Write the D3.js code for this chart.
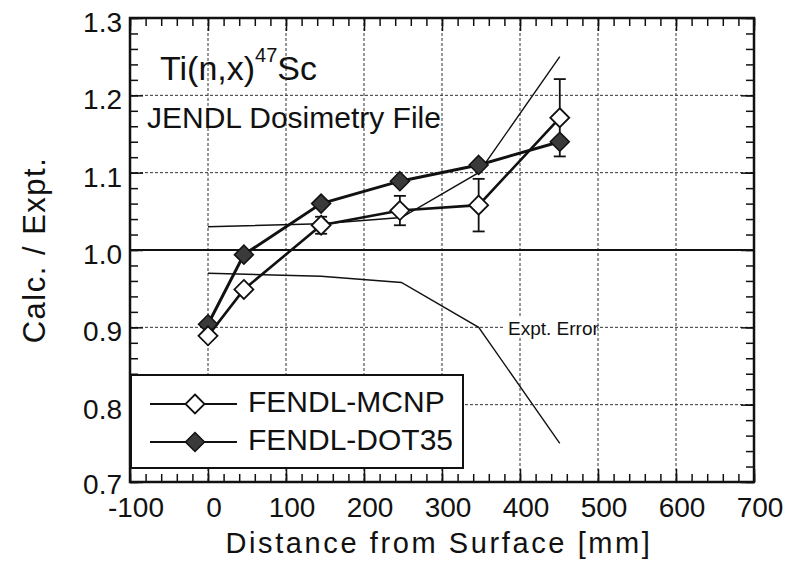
<!DOCTYPE html>
<html>
<head>
<meta charset="utf-8">
<script src="https://cdn.jsdelivr.net/npm/d3@7"></script>
<style>
  html, body { margin: 0; padding: 0; background: #fff; }
  svg { display: block; }
  text { font-family: "Liberation Sans", Arial, Helvetica, sans-serif; fill: #111; }
</style>
</head>
<body>
<svg id="chart" width="793" height="562"></svg>
<script>
// ---- data ----
const distance = [0, 46, 145, 246, 347, 451];
const mcnp     = [0.889, 0.949, 1.032, 1.051, 1.058, 1.171];
const mcnpErr  = [0.005, 0.005, 0.011, 0.019, 0.034, 0.050];
const dot35    = [0.904, 0.994, 1.060, 1.089, 1.110, 1.140];
const errX     = [0, 145, 248, 347, 451];
const errUpper = [1.030, 1.034, 1.042, 1.100, 1.250];
const errLower = [0.970, 0.966, 0.958, 0.900, 0.750];
const xTicks = [-100, 0, 100, 200, 300, 400, 500, 600, 700];
const yTicks = [0.7, 0.8, 0.9, 1.0, 1.1, 1.2, 1.3];
const yTickLabels = ["0.7", "0.8", "0.9", "1.0", "1.1", "1.2", "1.3"];
const seriesNames = ["FENDL-MCNP", "FENDL-DOT35"];

// ---- layout ----
const svg = d3.select("#chart");
const L = 130, R = 754, T = 18, B = 482;
const x = d3.scaleLinear().domain([-100, 700]).range([L, R]);
const y = d3.scaleLinear().domain([0.7, 1.3]).range([B, T]);

// gridlines
const grid = svg.append("g").attr("stroke", "#333").attr("stroke-width", 1).attr("stroke-dasharray", "3,2");
xTicks.slice(1, -1).forEach(v => grid.append("line").attr("x1", x(v)).attr("x2", x(v)).attr("y1", T).attr("y2", B));
yTicks.slice(1, -1).filter(v => v !== 1.0).forEach(v => grid.append("line").attr("x1", L).attr("x2", R).attr("y1", y(v)).attr("y2", y(v)));

// minor/major ticks via d3 axes (inward)
const minorX = d3.range(-100, 701, 20);
const minorY = d3.range(0, 31).map(i => 0.7 + i * 0.02);
function styleAxis(g) { g.select(".domain").remove(); g.selectAll("text").remove(); g.selectAll("line").attr("stroke", "#111").attr("stroke-width", 1.5); }
svg.append("g").attr("transform", `translate(0,${B})`).call(d3.axisBottom(x).tickValues(minorX).tickSize(-8)).call(styleAxis);
svg.append("g").attr("transform", `translate(0,${T})`).call(d3.axisTop(x).tickValues(minorX).tickSize(-8)).call(styleAxis);
svg.append("g").attr("transform", `translate(${L},0)`).call(d3.axisLeft(y).tickValues(minorY).tickSize(-8)).call(styleAxis);
svg.append("g").attr("transform", `translate(${R},0)`).call(d3.axisRight(y).tickValues(minorY).tickSize(-8)).call(styleAxis);
// major ticks
svg.append("g").attr("transform", `translate(0,${B})`).call(d3.axisBottom(x).tickValues(xTicks).tickSize(-13)).call(styleAxis);
svg.append("g").attr("transform", `translate(0,${T})`).call(d3.axisTop(x).tickValues(xTicks).tickSize(-13)).call(styleAxis);
svg.append("g").attr("transform", `translate(${L},0)`).call(d3.axisLeft(y).tickValues(yTicks).tickSize(-13)).call(styleAxis);
svg.append("g").attr("transform", `translate(${R},0)`).call(d3.axisRight(y).tickValues(yTicks).tickSize(-13)).call(styleAxis);

// tick labels
svg.append("g").selectAll("text").data(xTicks).join("text")
  .attr("x", d => x(d) + 6).attr("y", 517).attr("text-anchor", "middle")
  .attr("font-size", 28).text(d => d);
svg.append("g").selectAll("text").data(yTicks).join("text")
  .attr("x", 122).attr("y", (d, i) => y(d) + (i === 0 ? 12 : 14)).attr("text-anchor", "end")
  .attr("font-size", 28).text((d, i) => yTickLabels[i]);

// axis titles
svg.append("text").attr("x", (L + R) / 2 - 3).attr("y", 553).attr("text-anchor", "middle")
  .attr("font-size", 29).attr("letter-spacing", 2.6).text("Distance from Surface [mm]");
svg.append("text").attr("transform", `translate(45,${(T + B) / 2}) rotate(-90)`).attr("text-anchor", "middle")
  .attr("font-size", 31).attr("letter-spacing", 1.5).text("Calc. / Expt.");

// reference line 1.0
svg.append("line").attr("x1", L).attr("x2", R).attr("y1", y(1.0)).attr("y2", y(1.0)).attr("stroke", "#111").attr("stroke-width", 2.2);

// experimental error band
const band = d3.line().x((d, i) => x(errX[i]));
svg.append("path").datum(errUpper).attr("d", band.y(d => y(d))).attr("fill", "none").attr("stroke", "#111").attr("stroke-width", 1.4);
svg.append("path").datum(errLower).attr("d", band.y(d => y(d))).attr("fill", "none").attr("stroke", "#111").attr("stroke-width", 1.4);

// Expt. Error label
svg.append("rect").attr("x", 505).attr("y", 318).attr("width", 92).attr("height", 20).attr("fill", "#fff");
svg.append("text").attr("x", 508).attr("y", 335).attr("font-size", 19).text("Expt. Error");

// series lines
const sline = d3.line().x((d, i) => x(distance[i])).y(d => y(d));
svg.append("path").datum(mcnp).attr("d", sline).attr("fill", "none").attr("stroke", "#111").attr("stroke-width", 2.6);
svg.append("path").datum(dot35).attr("d", sline).attr("fill", "none").attr("stroke", "#111").attr("stroke-width", 3);

// error bars (MCNP)
const eb = svg.append("g").attr("stroke", "#111").attr("stroke-width", 1.8);
mcnp.forEach((v, i) => {
  const cx = x(distance[i]);
  eb.append("line").attr("x1", cx).attr("x2", cx).attr("y1", y(v - mcnpErr[i])).attr("y2", y(v + mcnpErr[i]));
  eb.append("line").attr("x1", cx - 6).attr("x2", cx + 6).attr("y1", y(v - mcnpErr[i])).attr("y2", y(v - mcnpErr[i]));
  eb.append("line").attr("x1", cx - 6).attr("x2", cx + 6).attr("y1", y(v + mcnpErr[i])).attr("y2", y(v + mcnpErr[i]));
});

// markers
const diamond = (cx, cy, r) => `M${cx},${cy - r}L${cx + r},${cy}L${cx},${cy + r}L${cx - r},${cy}Z`;
svg.append("g").selectAll("path").data(dot35).join("path")
  .attr("d", (d, i) => diamond(x(distance[i]), y(d), 9.5)).attr("fill", "#3a3a3a").attr("stroke", "#111").attr("stroke-width", 1.5);
svg.append("g").selectAll("path").data(mcnp).join("path")
  .attr("d", (d, i) => diamond(x(distance[i]), y(d), 9.5)).attr("fill", "#fff").attr("stroke", "#111").attr("stroke-width", 1.8);

// legend
svg.append("rect").attr("x", L + 1).attr("y", 375).attr("width", 332).attr("height", 93)
  .attr("fill", "#fff").attr("stroke", "#111").attr("stroke-width", 2);
const legY = [404, 442];
seriesNames.forEach((name, i) => {
  svg.append("line").attr("x1", 150).attr("x2", 237).attr("y1", legY[i]).attr("y2", legY[i]).attr("stroke", "#111").attr("stroke-width", 1.8);
  svg.append("path").attr("d", diamond(195, legY[i], 9.5))
    .attr("fill", i === 0 ? "#fff" : "#3a3a3a").attr("stroke", "#111").attr("stroke-width", i === 0 ? 1.8 : 1.5);
  svg.append("text").attr("x", 248).attr("y", legY[i] + 8).attr("font-size", 30).text(name);
});

// annotations
const t1 = svg.append("text").attr("x", 160).attr("y", 80).attr("font-size", 34);
t1.append("tspan").text("Ti(n,x)");
t1.append("tspan").attr("font-size", 20).attr("dy", -18).text("47");
t1.append("tspan").attr("font-size", 34).attr("dy", 18).text("Sc");
svg.append("text").attr("x", 147).attr("y", 128).attr("font-size", 30).text("JENDL Dosimetry File");

// frame
svg.append("rect").attr("x", L).attr("y", T).attr("width", R - L).attr("height", B - T)
  .attr("fill", "none").attr("stroke", "#111").attr("stroke-width", 2.5);
</script>
</body>
</html>
